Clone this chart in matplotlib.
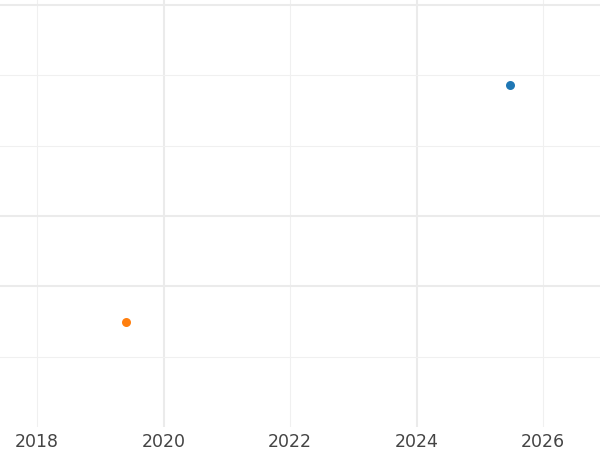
import numpy as np
import matplotlib
matplotlib.use('agg')
import matplotlib.pyplot as plt
from matplotlib.ticker import FixedLocator

# data
years = [2025.48, 2019.41]
values = [4.86, 1.50]
colors = ['#1f77b4', '#ff7f0e']

x_major = [2020, 2024]
x_minor = [2018, 2022, 2026]
x_labels = ['2018', '2020', '2022', '2024', '2026']
y_major = [2, 3, 6]
y_minor = [1, 4, 5]

fig = plt.figure(figsize=(6, 4.5), dpi=100)
ax = fig.add_axes([0, 0.051, 1, 0.949])

for x, y, c in zip(years, values, colors):
    ax.scatter([x], [y], s=42, color=c, zorder=3, linewidths=0)

ax.set_xlim(2017.415, 2026.9)
ax.set_ylim(0, 6.07)

ax.xaxis.set_major_locator(FixedLocator(x_major))
ax.xaxis.set_minor_locator(FixedLocator(x_minor))
ax.yaxis.set_major_locator(FixedLocator(y_major))
ax.yaxis.set_minor_locator(FixedLocator(y_minor))
ax.grid(which='major', color='#ebebeb', linewidth=1.5, zorder=0)
ax.grid(which='minor', color='#f0f0f0', linewidth=0.8, zorder=0)
ax.set_axisbelow(True)

ax.tick_params(which='both', length=0, labelleft=False, labelbottom=False)
for s in ax.spines.values():
    s.set_visible(False)

# year labels under the plot
for yr, lab in zip([2018, 2020, 2022, 2024, 2026], x_labels):
    ax.text(yr, -0.215, lab, ha='center', va='center', fontsize=12.5,
            color='#444444', transform=ax.transData, clip_on=False)

fig.savefig('out.png', dpi=100)
